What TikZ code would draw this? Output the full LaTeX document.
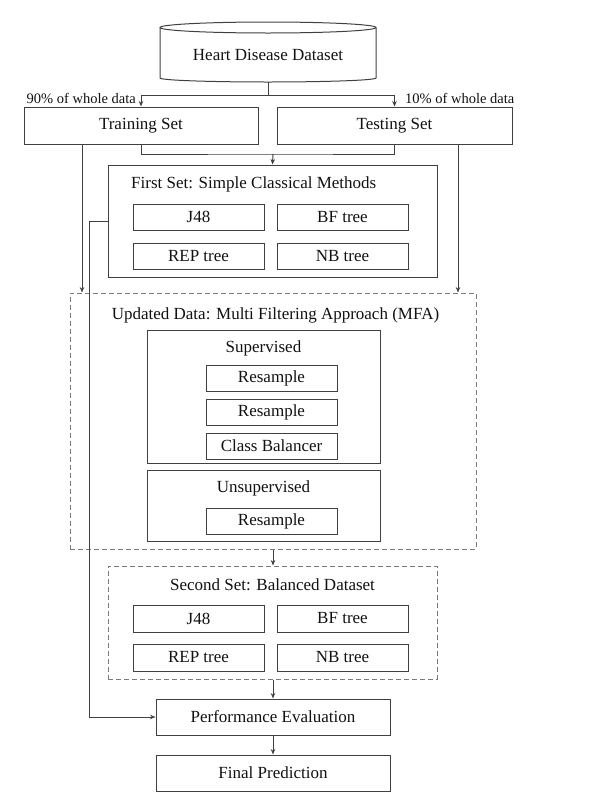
\documentclass[tikz,border=0pt]{standalone}
\usepackage{fontspec}
\setmainfont{Liberation Serif}
\usetikzlibrary{arrows.meta}
\definecolor{lc}{HTML}{404040}
\definecolor{dc}{HTML}{7A7A7A}
\definecolor{tc}{HTML}{111111}
\tikzset{
  box/.style={draw=lc, line width=1pt, inner sep=0pt, text=tc, font=\fontsize{17}{20}\selectfont},
  dbox/.style={draw=dc, line width=1pt, dash pattern=on 5pt off 3pt, inner sep=0pt},
  lbl/.style={inner sep=0pt, text=tc, font=\fontsize{17}{20}\selectfont},
  slbl/.style={inner sep=0pt, text=tc, font=\fontsize{14.5}{17}\selectfont},
  conn/.style={draw=lc, line width=1pt},
  arr/.style={conn, -{Stealth[length=5.5pt,width=4.5pt]}}
}
\begin{document}
\begin{tikzpicture}[x=1pt,y=-1pt]
\useasboundingbox (0,0) rectangle (607,801);
% cylinder
\node[lbl, minimum width=216pt, minimum height=54pt] (hdd) at (268,55) {Heart Disease Dataset};
\draw[conn] (268,27.5) ellipse [x radius=108, y radius=5.5];
\draw[conn] (160,27.5) -- (160,78) arc[start angle=180, end angle=0, x radius=108, y radius=4] -- (376,27.5);
% split
\coordinate (sp) at (268,95);
\draw[conn] (hdd.south) -- (sp);
\node[box, minimum width=234pt, minimum height=37pt] (train) at (141,125.5) {Training Set};
\node[box, minimum width=235pt, minimum height=37pt] (test) at (394.5,125.5) {Testing Set};
\draw[arr] (sp) -| (train.north);
\draw[arr] (sp) -| (test.north);
\node[slbl, anchor=east] (l90) at (136,98) {90\% of whole data};
\node[slbl, anchor=west] (l10) at (405,98) {10\% of whole data};
% first set
\node[box, minimum width=329pt, minimum height=112pt] (first) at (272.5,221) {};
\node[lbl, anchor=west] (firstt) at (131,184) {First Set: Simple Classical Methods};
\node[box, minimum width=131pt, minimum height=26pt] (j48a) at (198.5,217) {J48};
\node[box, minimum width=131pt, minimum height=26pt] (bfa) at (342.5,217) {BF tree};
\node[box, minimum width=131pt, minimum height=26pt] (repa) at (198.5,256) {REP tree};
\node[box, minimum width=131pt, minimum height=26pt] (nba) at (342.5,256) {NB tree};
\coordinate (j1) at (273,154);
\draw[conn] (train.south) |- (j1) -| (test.south);
\draw[arr] (j1) -- (first.north);
% MFA
\node[dbox, minimum width=406pt, minimum height=256pt] (mfa) at (273,421) {};
\node[lbl] (mfat) at (275.5,315) {Updated Data: Multi Filtering Approach (MFA)};
\node[box, minimum width=233pt, minimum height=133pt] (sup) at (263.5,396.5) {};
\node[lbl] (supt) at (263.5,348) {Supervised};
\node[box, minimum width=131pt, minimum height=26pt] (rs1) at (271.5,378) {Resample};
\node[box, minimum width=131pt, minimum height=26pt] (rs2) at (271.5,412.5) {Resample};
\node[box, minimum width=131pt, minimum height=26pt] (cb) at (271.5,446) {Class Balancer};
\node[box, minimum width=233pt, minimum height=71pt] (unsup) at (263.5,505.5) {};
\node[lbl] (unsupt) at (263.5,488) {Unsupervised};
\node[box, minimum width=131pt, minimum height=26pt] (rs3) at (271.5,521) {Resample};
\draw[arr] ([xshift=-59pt]train.south) -- ([xshift=-59pt]train.south |- mfa.north);
\draw[arr] ([xshift=63.5pt]test.south) -- ([xshift=63.5pt]test.south |- mfa.north);
% second set
\node[dbox, minimum width=329pt, minimum height=113pt] (second) at (272.5,622.5) {};
\node[lbl] (sect) at (272.5,585) {Second Set: Balanced Dataset};
\node[box, minimum width=131pt, minimum height=27pt] (j48b) at (198.5,618.5) {J48};
\node[box, minimum width=131pt, minimum height=27pt] (bfb) at (342.5,618.5) {BF tree};
\node[box, minimum width=131pt, minimum height=27pt] (repb) at (198.5,657.5) {REP tree};
\node[box, minimum width=131pt, minimum height=27pt] (nbb) at (342.5,657.5) {NB tree};
\draw[arr] (mfa.south) -- (mfa.south |- second.north);
% evaluation
\node[box, minimum width=234pt, minimum height=36pt] (perf) at (273,717) {Performance Evaluation};
\node[box, minimum width=234pt, minimum height=36pt] (final) at (273,773) {Final Prediction};
\draw[arr] (second.south -| perf.north) -- (perf.north);
\draw[arr] (perf.south) -- (final.north);
\draw[arr] (first.west) -- ++(-18,0) |- (perf.west);
\end{tikzpicture}
\end{document}
